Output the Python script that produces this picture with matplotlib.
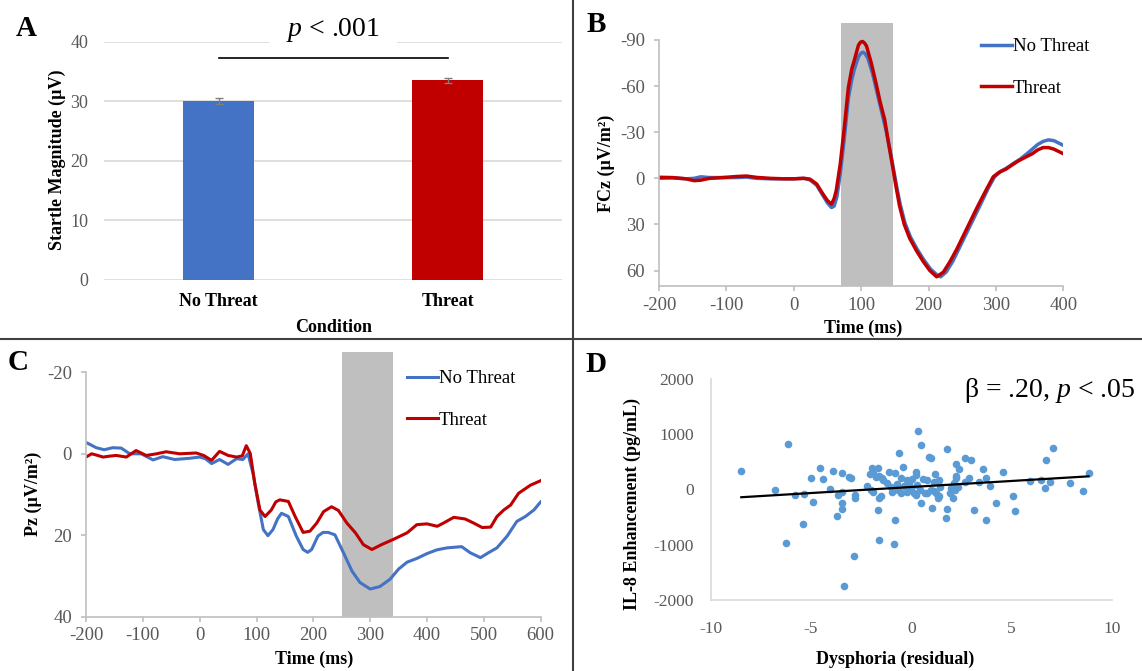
import numpy as np
import matplotlib.pyplot as plt
from matplotlib.lines import Line2D

plt.rcParams['font.family'] = ['Liberation Serif', 'DejaVu Serif']
plt.rcParams['mathtext.fontset'] = 'custom'
plt.rcParams['mathtext.it'] = 'Liberation Serif:italic'
plt.rcParams['mathtext.rm'] = 'Liberation Serif'
plt.rcParams['axes.unicode_minus'] = False

# --- A: startle magnitude by condition ---
conditions = ["No Threat", "Threat"]
startle_mean = [30.0, 33.5]
startle_err = [0.5, 0.4]

# --- B: FCz waveforms ---
fcz_t_no = [-200, -180, -160, -148, -138, -125, -105, -85, -70, -55, -35, -15, 0, 15, 24, 34, 43, 50, 56,
            60, 64, 69, 75, 81, 86, 90, 96, 100, 103, 106, 110, 117, 124, 130, 137, 143, 148, 153, 158,
            165, 173, 183, 193, 203, 213, 218, 226, 236, 246, 256, 266, 276, 288, 298, 307, 317, 327,
            336, 346, 354, 362, 370, 378, 386, 393, 400]
fcz_no = [0, -0.3, 0.3, 0, -1, -0.5, -0.5, -0.5, -0.8, 0, 0.3, 0.3, 0.3, 0, 1, 4.5, 11, 16, 19,
          18, 12, -3, -26, -52, -64, -71, -79, -81.5, -82, -81, -78, -68, -55, -44, -31, -18, -6, 6, 17,
          29, 38, 46, 53, 59, 63, 64, 61, 54, 45, 36, 27, 18, 7, -1, -4.5, -7, -10,
          -12.5, -16, -19, -22, -24, -25, -24.5, -23, -21.5]
fcz_t_thr = [-200, -180, -160, -148, -138, -125, -105, -85, -70, -55, -35, -15, 0, 15, 24, 34, 43, 50, 56,
             60, 63, 69, 75, 81, 86, 90, 96, 99, 102, 105, 108, 115, 122, 128, 135, 141, 147, 152, 157,
             164, 172, 182, 192, 202, 212, 222, 232, 242, 252, 262, 272, 285, 296, 305, 315, 325, 334,
             345, 354, 362, 370, 378, 386, 393, 400]
fcz_thr = [-0.7, -0.5, 0.3, 1.5, 1.2, 0, -0.5, -1.2, -1.5, -0.6, 0, 0.3, 0.3, 0, 0.5, 3.7, 10, 14.5, 16.8,
           13, 8, -9.4, -33, -59, -71, -77, -86.6, -88.5, -89, -88, -86, -75, -62, -50, -38, -22, -7, 6, 18,
           30, 39, 47, 54, 60, 64, 61, 54, 46, 37, 28, 19, 8, -1, -4, -6, -9, -11.5,
           -14, -16, -18.5, -20, -20, -19, -17.5, -16]

# --- C: Pz waveforms ---
pz_t_no = [-200, -182, -168, -153, -138, -123, -103, -82, -65, -44, -18, 0, 10, 21, 35, 50, 65, 76, 85,
           94, 103, 112, 120, 129, 137, 144, 156, 170, 182, 190, 197, 208, 217, 226, 238, 253, 268,
           282, 300, 317, 335, 350, 365, 382, 400, 417, 435, 461, 476, 494, 508, 523, 541, 558, 573,
           588, 600]
pz_no = [-2.8, -1.5, -1, -1.5, -1.4, 0, 0, 1.5, 0.7, 1.4, 1.1, 0.8, 1.2, 2.4, 1.4, 2.6, 1.2, 1.4, 0,
         4.9, 12.1, 18.6, 20.1, 18.6, 16, 14.6, 15.4, 20.2, 23.5, 24.2, 23.5, 20.2, 19.3, 19.3, 19.9,
         24.3, 28.8, 31.6, 33.2, 32.6, 30.8, 28.3, 26.6, 25.7, 24.5, 23.6, 23.1, 22.8, 24.3, 25.5,
         24.3, 23.1, 20.2, 16.6, 15.4, 13.8, 11.8]
pz_t_thr = [-200, -190, -182, -170, -160, -147, -129, -112, -94, -76, -59, -35, -6, 7, 21, 35, 50, 65,
            75, 82, 89, 97, 106, 115, 126, 134, 141, 156, 168, 182, 194, 206, 218, 232, 244, 259, 274,
            288, 303, 320, 341, 365, 382, 400, 418, 429, 447, 467, 482, 497, 512, 523, 535, 547, 561,
            582, 600]
pz_thr = [0.8, 0, 0.3, 0.8, 0.6, 0.4, 0.8, -0.8, 0.4, 0, -0.5, 0, -0.2, 0.4, 1.6, -0.6, 0.4, 0.8,
          0.5, -2, -0.1, 7.3, 13.8, 15.4, 13.8, 11.8, 11.3, 11.7, 15.4, 19.3, 19, 17, 14.2, 13, 13.9,
          17, 19.4, 22.3, 23.5, 22.3, 21, 19.4, 17.4, 17.2, 17.8, 17, 15.6, 16, 17, 18.1, 18, 15.4,
          13.8, 12.6, 9.7, 7.7, 6.6]

# --- D: dysphoria vs IL-8 enhancement ---
dys_x = [-8.47, -6.14, -6.23, -6.78, -5.78, -5.33, -5.40, -5.0, -4.90, -4.53, -4.42,
         -4.07, -3.92, -3.65, -3.71, -3.45, -3.44, -3.45, -3.45, -3.37, -3.09, -3.0, -2.82, -2.82,
         -2.84, -2.21, -2.03,
         -2.04, -1.96, -1.66, -1.93, -1.75, -1.48, -1.6, -1.4, -1.13, -0.80, -0.62, -0.43, -1.63,
         -1.5, -1.66, -1.59, -0.85, -0.80, -1.93, -1.0, -0.94, -0.67, -0.49, -0.49, -0.22, -0.22,
         -0.7, -1.2,
         0.33, 0.50, 0.24, 0.24, 0.05, 0.14, 0.24, 0.50, 0.6, 0.69, 0.78, 0.78, 0.90, 1.0, 0.96,
         1.11, 1.03, 1.16, 1.14, 1.33, 1.36, 1.37, 1.45, 1.23, 1.32, 1.78, 1.78, 1.73, 1.99, 1.95,
         2.03, 2.10, 2.13, 2.19, 2.22, 2.23, 2.23, 2.36, 2.31, 2.66, 2.66, 2.86, 2.99, 3.11, 3.35,
         3.55, 3.72, 3.72, 3.94, 4.24, 4.55, 5.05, 5.15,
         5.93, 6.48, 6.64, 6.71, 6.93, 7.04, 7.89, 8.54, 8.83,
         -0.35, 0.0, 0.3, 0.45, -0.1]
il8_y = [334, 811, -970, -18, -107, -82, -618, 214, -232, 393, 191,
         0, 340, -102, -479, 293, -42, -243, -363, -1743, 232, 200, -95, -155,
         -1207, 54, -12,
         275, 393, 393, 287, 228, 198, 250, 170, 321, 293, 650, 411, -154,
         -120, -380, -916, -988, -559, -42, 40, -42, -12, -72, 198, 168, -42,
         100, 120,
         1048, 810, 257, 317, 180, -72, -102, -255, 180, -72, 173, -64, 578, 561, -12,
         -36, -345, 275, 138, 132, -125, 168, 48, -72, -162, 727, -363, -523, 18, -72,
         25, -162, 108, -5, 198, 453, 250, 364, 48, 572, 132, 214, 525, -375, 132,
         364, 214, -559, 66, -243, 311, -113, -393,
         143, 173, 25, 525, 125, 750, 107, -36, 293,
         60, 30, 80, -20, 120]

blue = '#4472C4'
red = '#C00000'
tick_grey = '#595959'
axis_grey = '#bfbfbf'

W, H = 1142, 671
fig = plt.figure(figsize=(W / 100, H / 100), dpi=100)


def box(l, t, r, b):
    return [l / W, 1 - b / H, (r - l) / W, (b - t) / H]


def put(x, y, s, **kw):
    fig.text(x / W, 1 - y / H, s, ha='center', va='center', **kw)


def erp_axes(ax, xticks, yticks):
    ax.spines[['top', 'right']].set_visible(False)
    for side in ['left', 'bottom']:
        ax.spines[side].set_color(axis_grey)
        ax.spines[side].set_linewidth(1.2)
    ax.spines['left'].set_bounds(yticks[0], ax.get_ylim()[0])
    ax.set_xticks(xticks)
    ax.set_yticks(yticks)
    ax.tick_params(color=axis_grey, length=3.6, width=1.2, labelcolor=tick_grey, labelsize=13.5)
    ax.tick_params(axis='y', pad=6.5)
    ax.tick_params(axis='x', pad=4)


def erp_legend(ax, x, y):
    ax.legend(loc='upper left', bbox_to_anchor=(x / W, 1 - y / H), bbox_transform=fig.transFigure,
              frameon=False, fontsize=13.5, handlelength=1.65, handletextpad=0.05, labelspacing=1.3,
              borderpad=0, borderaxespad=0)


# Panel A
axA = fig.add_axes(box(104, 41.7, 562, 280))
xa = np.arange(len(conditions))
axA.bar(xa, startle_mean, width=0.31, color=[blue, red], yerr=startle_err,
        error_kw=dict(ecolor='#7f7f7f', capsize=3, elinewidth=1, capthick=1), zorder=3)
axA.set_xlim(-0.5, 1.5)
axA.set_ylim(0, 40)
axA.set_yticks([0, 10, 20, 30, 40])
axA.grid(axis='y', color='#d9d9d9', lw=1.2)
axA.set_axisbelow(True)
for s in axA.spines.values():
    s.set_visible(False)
axA.set_xticks(xa, conditions)
axA.tick_params(length=0, labelsize=13, labelcolor=tick_grey)
axA.tick_params(axis='y', pad=11.5)
axA.tick_params(axis='x', pad=9, labelcolor='black')
for lab in axA.get_xticklabels():
    lab.set_fontweight('bold')
axA.text(0.5, 42.0, '$p$ < .001', ha='center', va='center', fontsize=20, zorder=5,
         clip_on=False, bbox=dict(boxstyle='square,pad=0.6', fc='white', ec='none'))
axA.plot([0, 1], [37.3, 37.3], color='black', lw=1.2, zorder=6, clip_on=False)

# Panel B
axB = fig.add_axes(box(659, 23, 1063.3, 286))
axB.axvspan(70, 148, color=axis_grey, lw=0, zorder=0)
axB.plot(fcz_t_no, fcz_no, color=blue, lw=2.5, label='No Threat')
axB.plot(fcz_t_thr, fcz_thr, color=red, lw=2.5, label='Threat')
axB.set_xlim(-200, 400)
axB.set_ylim(70, -101)
erp_axes(axB, range(-200, 401, 100), [-90, -60, -30, 0, 30, 60])
erp_legend(axB, 981, 38)

# Panel C
axC = fig.add_axes(box(86, 352, 540.7, 616.7))
axC.axvspan(250, 340, color=axis_grey, lw=0, zorder=0)
axC.plot(pz_t_no, pz_no, color=blue, lw=2.2, label='No Threat')
axC.plot(pz_t_thr, pz_thr, color=red, lw=2.2, label='Threat')
axC.set_xlim(-200, 600)
axC.set_ylim(40, -25)
erp_axes(axC, range(-200, 601, 100), [-20, 0, 20, 40])
erp_legend(axC, 407, 370)

# Panel D
axD = fig.add_axes(box(710.6, 378.7, 1112, 600))
axD.scatter(dys_x, il8_y, s=30, color='#5B9BD5', lw=0, zorder=3)
coef = np.polyfit(dys_x, il8_y, 1)
xs = np.array([min(dys_x), max(dys_x)])
axD.plot(xs, np.polyval(coef, xs), color='black', lw=1.6, zorder=4)
axD.set_xlim(-10, 10)
axD.set_ylim(-2000, 2000)
axD.set_xticks([-10, -5, 0, 5, 10])
axD.set_yticks([-2000, -1000, 0, 1000, 2000])
axD.spines[['top', 'right']].set_visible(False)
for side in ['left', 'bottom']:
    axD.spines[side].set_color('#d9d9d9')
    axD.spines[side].set_linewidth(1.2)
axD.tick_params(length=0, labelcolor=tick_grey, labelsize=12.5)
axD.tick_params(axis='y', pad=12)
axD.tick_params(axis='x', pad=15)
fig.text(1135 / W, 1 - 390 / H, 'β = .20, $p$ < .05', ha='right', va='center', fontsize=20)

# axis titles
put(57, 160, 'Startle Magnitude (µV)', rotation=90, fontsize=13, fontweight='bold')
put(334, 328, 'Condition', fontsize=13, fontweight='bold')
put(606, 163, 'FCz (µV/m²)', rotation=90, fontsize=13, fontweight='bold')
put(863, 328, 'Time (ms)', fontsize=13, fontweight='bold')
put(33, 494, 'Pz (µV/m²)', rotation=90, fontsize=13, fontweight='bold')
put(314, 659, 'Time (ms)', fontsize=13, fontweight='bold')
put(632, 504, 'IL-8 Enhancement (pg/mL)', rotation=90, fontsize=13, fontweight='bold')
put(895, 659, 'Dysphoria (residual)', fontsize=13, fontweight='bold')

# panel letters
put(26.5, 28.5, 'A', fontsize=21, fontweight='bold')
put(596.5, 25, 'B', fontsize=21, fontweight='bold')
put(18.5, 362, 'C', fontsize=21, fontweight='bold')
put(595.6, 364.5, 'D', fontsize=21, fontweight='bold')

# panel dividers
fig.add_artist(Line2D([573 / W, 573 / W], [0, 1], transform=fig.transFigure, color='#404040', lw=1.5))
fig.add_artist(Line2D([0, 1], [1 - 339 / H, 1 - 339 / H], transform=fig.transFigure, color='#404040', lw=1.5))

fig.savefig('out.png', dpi=100)
